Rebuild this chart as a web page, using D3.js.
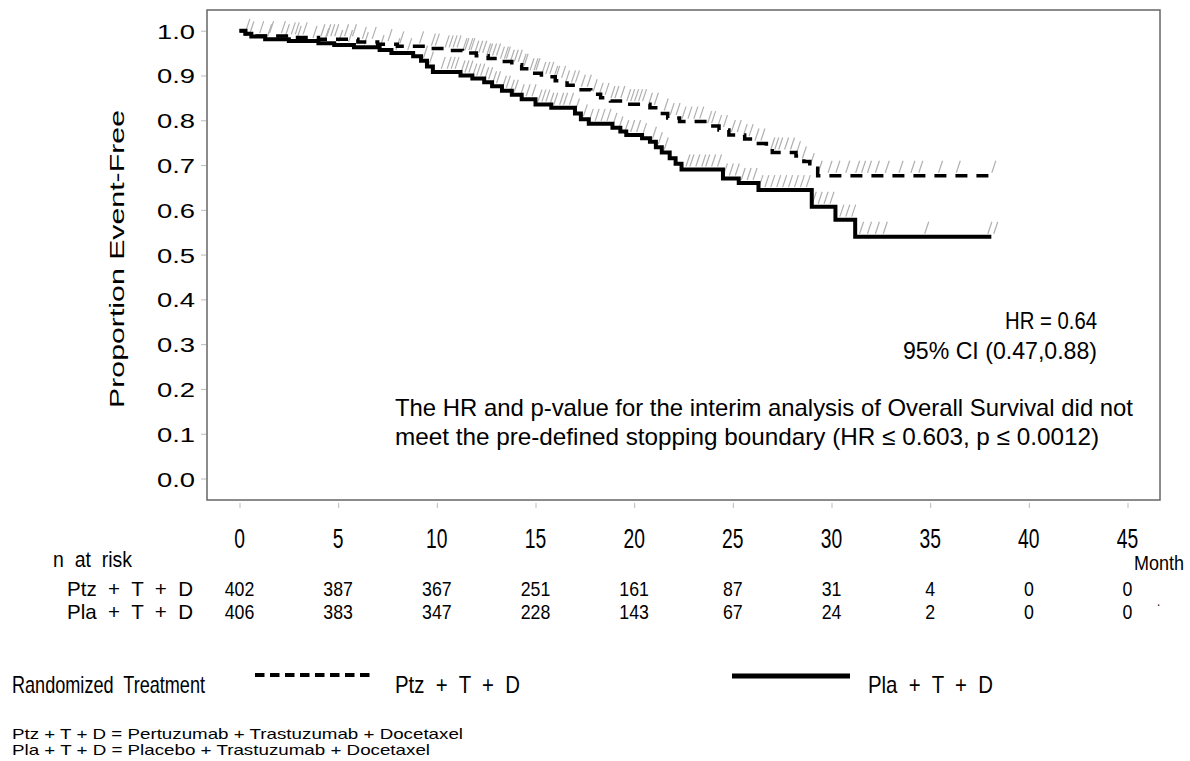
<!DOCTYPE html>
<html>
<head>
<meta charset="utf-8">
<script src="https://cdn.jsdelivr.net/npm/d3@7"></script>
<style>
html,body{margin:0;padding:0;background:#fff;}
svg{display:block;}
text{white-space:pre;}
</style>
</head>
<body>
<svg id="chart" width="1190" height="761"></svg>
<script>
// ---------------- DATA ----------------
const xTicks = [0, 5, 10, 15, 20, 25, 30, 35, 40, 45];
const yTicks = [0, 0.1, 0.2, 0.3, 0.4, 0.5, 0.6, 0.7, 0.8, 0.9, 1.0];

const ptzRisk = [402, 387, 367, 251, 161, 87, 31, 4, 0, 0];
const plaRisk = [406, 383, 347, 228, 143, 67, 24, 2, 0, 0];

// Ptz + T + D (dashed) step times and survival after each step
const ptzTimes = [0, 0.3, 0.8, 2.5, 4.0, 6.0, 7.0, 8.0, 9.5, 10.5, 11.3, 12.0, 12.6, 13.2, 13.8, 14.3, 14.8, 15.3, 16.0, 16.6, 17.2, 17.8, 18.3, 18.8, 19.6, 20.8, 21.3, 21.7, 22.3, 23.8, 24.3, 24.8, 25.6, 26.2, 26.7, 27.0, 28.2, 28.6, 28.9, 29.3];
const ptzSurv  = [1.0, 0.993, 0.988, 0.985, 0.981, 0.975, 0.970, 0.965, 0.960, 0.956, 0.950, 0.944, 0.938, 0.931, 0.924, 0.915, 0.905, 0.897, 0.888, 0.878, 0.868, 0.858, 0.850, 0.843, 0.836, 0.828, 0.815, 0.805, 0.797, 0.787, 0.778, 0.767, 0.758, 0.748, 0.738, 0.728, 0.720, 0.708, 0.693, 0.676];
const ptzEnd = 38.2;

// Pla + T + D (solid)
const plaTimes = [0, 0.3, 0.6, 1.3, 2.5, 4.0, 4.8, 5.8, 7.1, 7.7, 8.8, 9.2, 9.5, 9.8, 11.2, 11.8, 12.4, 12.8, 13.3, 13.8, 14.3, 15.0, 15.8, 17.0, 17.3, 17.7, 18.9, 19.3, 19.6, 20.4, 20.8, 21.1, 21.4, 21.8, 22.1, 22.4, 24.5, 25.3, 26.3, 29.0, 30.2, 31.2];
const plaSurv  = [1.0, 0.993, 0.987, 0.981, 0.977, 0.972, 0.968, 0.963, 0.957, 0.950, 0.943, 0.933, 0.920, 0.908, 0.900, 0.893, 0.885, 0.876, 0.866, 0.857, 0.847, 0.835, 0.828, 0.815, 0.802, 0.792, 0.783, 0.775, 0.767, 0.760, 0.752, 0.740, 0.728, 0.715, 0.703, 0.690, 0.670, 0.660, 0.644, 0.607, 0.578, 0.540];
const plaEnd = 38.1;

// censoring times
const ptzCensor = [0.4, 1.1, 1.6, 2.2, 2.7, 2.9, 3.3, 4.2, 4.5, 4.7, 4.9, 5.4, 5.8, 6.3, 6.8, 7.6, 8.2, 9.2, 9.8, 10.0,
  10.5, 10.7, 10.9, 11.1, 11.4, 11.5, 11.7, 11.8, 12.0, 12.2, 12.4, 12.6, 12.7, 12.9, 13.1, 13.3, 13.5, 13.6, 13.8, 14.0,
  14.2, 14.4, 14.5, 14.8, 15.0, 15.1, 15.4, 15.6, 15.8, 16.0, 16.1, 16.4, 16.6, 16.9, 17.1, 17.4, 17.7, 18.0, 18.3, 18.6,
  18.9, 19.1, 19.4, 19.7, 19.9, 20.1, 20.3, 20.5, 20.8, 21.1, 21.6, 21.9, 22.2, 22.5, 22.8, 23.1, 23.4, 23.8, 24.0, 24.3,
  24.6, 25.0, 25.3, 25.6, 25.9, 26.2, 26.5, 27.0, 27.2, 27.4, 27.7, 28.0, 28.3, 28.6, 29.0, 29.4, 29.9, 30.3, 30.8, 31.3,
  31.6, 31.9, 32.3, 32.8, 33.5, 34.1, 34.5, 35.5, 36.4, 38.2];
const plaCensor = [0.6, 1.5, 2.4, 3.0, 3.8, 4.4, 5.1, 5.6, 6.4, 7.2, 8.0, 8.6, 9.4, 9.7, 10.3, 10.6, 10.8, 11.0, 11.3, 11.5,
  11.7, 11.9, 12.1, 12.3, 12.5, 12.7, 12.9, 13.1, 13.4, 13.6, 13.8, 14.0, 14.3, 14.6, 14.9, 15.2, 15.4, 15.6, 15.8, 16.0,
  16.3, 16.5, 16.8, 17.1, 17.5, 17.8, 18.1, 18.4, 18.7, 19.0, 19.3, 19.6, 19.9, 20.2, 20.5, 21.0, 21.3, 21.6, 22.7, 22.9,
  23.2, 23.5, 23.7, 24.0, 24.3, 24.6, 24.9, 25.2, 25.5, 25.8, 26.1, 26.4, 26.7, 27.0, 27.3, 27.6, 27.9, 28.2, 28.5, 28.8,
  29.1, 29.4, 29.7, 30.0, 30.5, 30.8, 31.1, 31.5, 31.9, 32.3, 32.7, 34.8, 38.0, 38.3];

const armLabels = ["Ptz  +  T  +  D", "Pla  +  T  +  D"];
const footnotes = ["Ptz + T + D = Pertuzumab + Trastuzumab + Docetaxel", "Pla + T + D = Placebo + Trastuzumab + Docetaxel"];

// ---------------- DRAW ----------------
const svg = d3.select("#chart");
const SANS = "'Liberation Sans', Arial, Helvetica, sans-serif";
const NARROW = "'Liberation Sans Narrow', 'Liberation Sans', Arial, sans-serif";

// detect narrow font availability
let narrowOK = true;
{
  const a = svg.append("text").attr("font-family", NARROW).attr("font-size", 40).text("Randomized");
  const b = svg.append("text").attr("font-family", SANS).attr("font-size", 40).text("Randomized");
  const wa = a.node().getComputedTextLength(), wb = b.node().getComputedTextLength();
  narrowOK = wa < wb * 0.92;
  a.remove(); b.remove();
}

function ntext(g, x, y, str, size, anchor, width, squeeze) {
  const t = g.append("text").attr("x", x).attr("y", y)
    .attr("font-family", NARROW).attr("font-size", size)
    .attr("fill", "#000").text(str);
  let w = t.node().getComputedTextLength();
  if (width) {
    w = width;
    t.attr("textLength", w).attr("lengthAdjust", "spacingAndGlyphs");
  } else {
    const f = (narrowOK ? 1 : 0.82) * (squeeze || 1);
    if (f !== 1) {
      w = w * f;
      t.attr("textLength", w).attr("lengthAdjust", "spacingAndGlyphs");
    }
  }
  if (anchor === "middle") t.attr("x", x - w / 2);
  else if (anchor === "end") t.attr("x", x - w);
  return t;
}

const x = d3.scaleLinear().domain([0, 45]).range([239.5, 1127.5]);
const y = d3.scaleLinear().domain([0, 1]).range([478.5, 30.7]);

// frame
svg.append("rect").attr("x", 207).attr("y", 10).attr("width", 953).attr("height", 490)
  .attr("fill", "none").attr("stroke", "#666").attr("stroke-width", 1.5);

// y axis
const yAxis = svg.append("g").attr("transform", "translate(206,0)")
  .call(d3.axisLeft(y).tickValues(yTicks).tickSize(5).tickPadding(0).tickFormat(d3.format(".1f")));
yAxis.select(".domain").remove();
yAxis.selectAll(".tick line").attr("stroke", "#bbb").attr("stroke-width", 1);
yAxis.selectAll(".tick text").each(function () {
  const t = d3.select(this);
  t.attr("font-family", SANS).attr("font-size", 20).attr("fill", "#000").attr("dy", null).attr("y", 7.5);
  const w = this.getComputedTextLength() * 1.37;
  t.attr("text-anchor", "start").attr("x", -11 - w)
    .attr("textLength", w).attr("lengthAdjust", "spacingAndGlyphs");
});

// y axis title
svg.append("text").attr("transform", "translate(124,259) rotate(-90)")
  .attr("x", -149).attr("y", 0)
  .attr("font-family", SANS).attr("font-size", 20).attr("fill", "#000")
  .attr("textLength", 298).attr("lengthAdjust", "spacingAndGlyphs")
  .text("Proportion Event-Free");

// x axis
const xAxis = svg.append("g").attr("transform", "translate(0,503)")
  .call(d3.axisBottom(x).tickValues(xTicks).tickSize(5).tickFormat(""));
xAxis.select(".domain").remove();
xAxis.selectAll(".tick line").attr("stroke", "#bbb").attr("stroke-width", 1);
const xLab = svg.append("g");
xTicks.forEach(t => ntext(xLab, x(t), 548, String(t), 28, "middle", null, 0.84));

// curves
function stepPoints(times, surv, end) {
  const pts = times.map((t, i) => [t, surv[i]]);
  pts.push([end, surv[surv.length - 1]]);
  return pts;
}
const line = d3.line().x(d => x(d[0])).y(d => y(d[1])).curve(d3.curveStepAfter);

function survAt(times, surv, t) {
  let s = surv[0];
  for (let i = 0; i < times.length; i++) { if (times[i] <= t) s = surv[i]; }
  return s;
}

// censor marks
function drawCensor(times, surv, cens) {
  svg.append("g").selectAll("line").data(cens).join("line")
    .attr("x1", d => x(d) - 1.5)
    .attr("y1", d => y(survAt(times, surv, d)) - 3)
    .attr("x2", d => x(d) + 2.5)
    .attr("y2", d => y(survAt(times, surv, d)) - 15)
    .attr("stroke", "#b0b0b0").attr("stroke-width", 1.2);
}
drawCensor(plaTimes, plaSurv, plaCensor);
drawCensor(ptzTimes, ptzSurv, ptzCensor);

svg.append("path").datum(stepPoints(plaTimes, plaSurv, plaEnd))
  .attr("d", line).attr("fill", "none").attr("stroke", "#000").attr("stroke-width", 4);
svg.append("path").datum(stepPoints(ptzTimes, ptzSurv, ptzEnd))
  .attr("d", line).attr("fill", "none").attr("stroke", "#000").attr("stroke-width", 3.5)
  .attr("stroke-dasharray", "12,9");

// annotations
const ann = svg.append("g").attr("font-family", SANS).attr("font-size", 24).attr("fill", "#000");
ann.append("text").attr("x", 1005).attr("y", 329).attr("textLength", 92).attr("lengthAdjust", "spacingAndGlyphs").text("HR = 0.64");
ann.append("text").attr("x", 903).attr("y", 359).attr("textLength", 194).attr("lengthAdjust", "spacingAndGlyphs").text("95% CI (0.47,0.88)");
ann.append("text").attr("x", 395).attr("y", 416).attr("textLength", 738).attr("lengthAdjust", "spacingAndGlyphs")
  .text("The HR and p-value for the interim analysis of Overall Survival did not");
ann.append("text").attr("x", 395).attr("y", 445).attr("textLength", 704).attr("lengthAdjust", "spacingAndGlyphs")
  .text("meet the pre-defined stopping boundary (HR \u2264 0.603, p \u2264 0.0012)");

// risk table
const rt = svg.append("g");
ntext(rt, 53, 567, "n  at  risk", 22, "start", 79);
ntext(rt, 67, 596, armLabels[0], 21, "start", 126);
ntext(rt, 67, 619, armLabels[1], 21, "start", 126);
xTicks.forEach((t, i) => {
  ntext(rt, x(t), 596, String(ptzRisk[i]), 21, "middle", null, 1.03);
  ntext(rt, x(t), 619, String(plaRisk[i]), 21, "middle", null, 1.03);
});
ntext(rt, 1134, 570, "Month", 20, "start", 50);
ntext(rt, 1157, 606, ".", 14, "start");

// legend
const lg = svg.append("g");
ntext(lg, 12, 693, "Randomized  Treatment", 24, "start", 193);
lg.append("line").attr("x1", 255).attr("x2", 373).attr("y1", 675).attr("y2", 675)
  .attr("stroke", "#000").attr("stroke-width", 4).attr("stroke-dasharray", "9.5,5.5");
ntext(lg, 395, 693, armLabels[0], 24, "start", 125);
lg.append("line").attr("x1", 732).attr("x2", 850).attr("y1", 676).attr("y2", 676)
  .attr("stroke", "#000").attr("stroke-width", 5);
ntext(lg, 868, 693, armLabels[1], 24, "start", 125);

// footnotes
ntext(lg, 12, 739, footnotes[0], 15, "start", 451);
ntext(lg, 12, 755, footnotes[1], 15, "start", 418);
</script>
</body>
</html>
